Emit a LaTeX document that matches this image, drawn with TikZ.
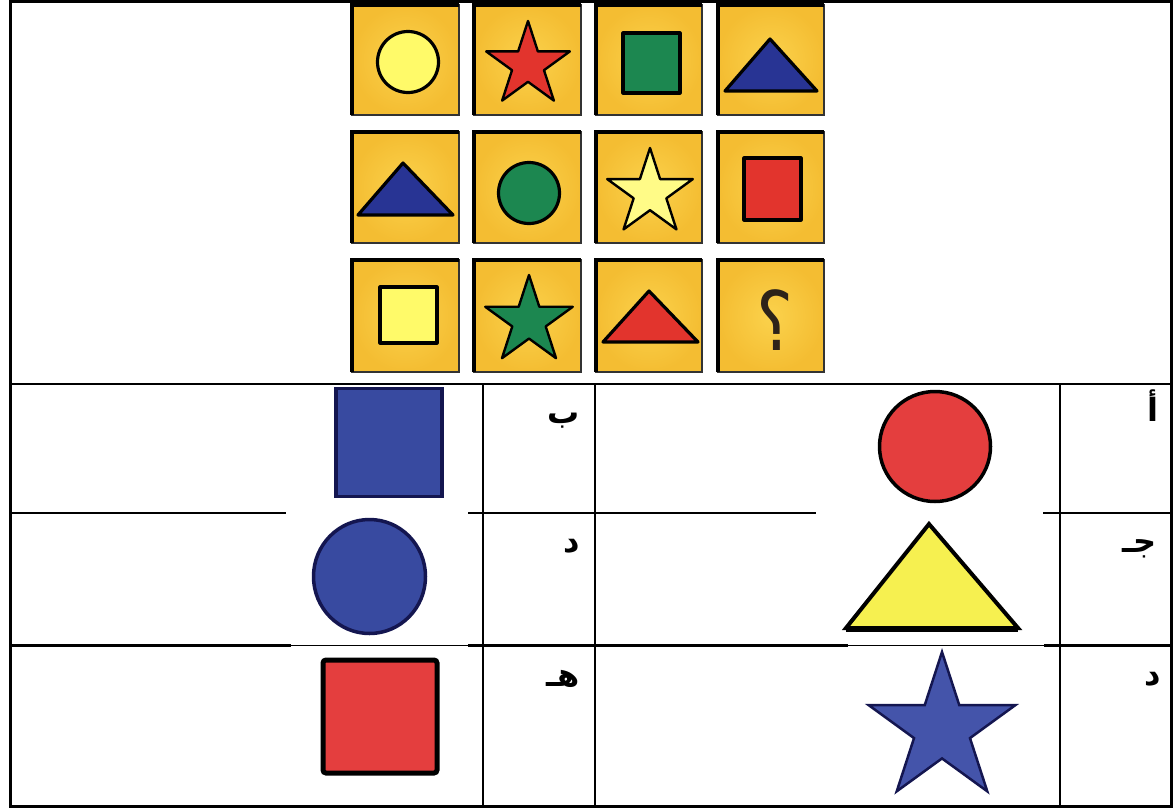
\documentclass[tikz,border=0pt]{standalone}
\usepackage{fontspec}
\newfontfamily\arabicfont[Script=Arabic]{DejaVu Sans}
\TeXXeTstate=1
\definecolor{tileIn}{RGB}{251,210,76}
\definecolor{tileOut}{RGB}{244,189,50}
\definecolor{pYellow}{RGB}{255,250,105}
\definecolor{pRed}{RGB}{226,52,45}
\definecolor{pGreen}{RGB}{28,135,80}
\definecolor{pBlue}{RGB}{40,52,148}
\definecolor{qCol}{RGB}{45,35,25}
\definecolor{aBlue}{RGB}{56,74,160}
\definecolor{aNavy}{RGB}{20,22,80}
\definecolor{aRed}{RGB}{228,62,62}
\definecolor{aYellow}{RGB}{246,240,80}
\definecolor{sBlue}{RGB}{68,84,170}
\newcommand{\drawstar}[4]{%
  \draw[#1] ({#2},{#3-#4})
    \foreach \i in {1,...,9}{ -- ({#2+(mod(\i,2)==0?1:0.382)*#4*cos(90+36*\i)},{#3-(mod(\i,2)==0?1:0.382)*#4*sin(90+36*\i)}) } -- cycle;}
\tikzset{
  grid/.style={line width=2.8pt, draw=black},
  thingrid/.style={line width=1pt, draw=black},
  shp/.style={line width=3.2pt, draw=black, line join=round},
  lab/.style={font=\arabicfont\bfseries\fontsize{32}{32}\selectfont, anchor=base east, inner sep=0pt},
}
\begin{document}
\begin{tikzpicture}[x=1pt,y=-1pt]
\useasboundingbox (0,0) rectangle (1175,809);
\fill[white] (0,0) rectangle (1175,809);
% table
\draw[grid] (10.5,1.4) rectangle (1171.5,806.5);
\draw[grid] (10.5,384) -- (1171.5,384);
\foreach \x in {483,595,1060} \draw[grid] (\x,384) -- (\x,806.5);
\draw[grid] (10.5,513) -- (286,513);
\draw[grid] (468,513) -- (816,513);
\draw[grid] (1043,513) -- (1171.5,513);
\draw[grid] (10.5,645.7) -- (291,645.7);
\draw[thingrid] (291,645.7) -- (468,645.7);
\draw[grid] (468,645.7) -- (848,645.7);
\draw[thingrid] (848,645.7) -- (1044,645.7);
\draw[grid] (1044,645.7) -- (1171.5,645.7);
% puzzle tiles
\foreach \xa/\xb in {352/459,474/581,596/702,718/824}{
  \foreach \ya/\yb in {5/115,132/243,260/372}{
    \shade[inner color=tileIn, outer color=tileOut] (\xa,\ya) rectangle (\xb,\yb);
    \draw[line width=1.2pt, black!80] (\xa,\ya) rectangle (\xb,\yb);
    \draw[line width=3.2pt, black] (\xa,\yb) -- (\xa,\ya) -- (\xb,\ya);
  }
}
% row 1
\draw[shp, fill=pYellow] (408,62) circle[radius=30.5];
\drawstar{shp, line width=2.4pt, fill=pRed}{528}{65}{44}
\draw[shp, fill=pGreen] (623,33) rectangle (680,93);
\draw[shp, fill=pBlue] (770,39) -- (817,91) -- (725,91) -- cycle;
% row 2
\draw[shp, fill=pBlue] (403,163) -- (453,215) -- (358,215) -- cycle;
\draw[shp, fill=pGreen] (529,193) circle[radius=30.5];
\drawstar{shp, line width=2.4pt, fill=pYellow!80!white}{650}{193}{45}
\draw[shp, fill=pRed] (744,158) rectangle (801,220);
% row 3
\draw[shp, fill=pYellow] (380,287) rectangle (437,343);
\drawstar{shp, line width=2.4pt, fill=pGreen}{529}{321}{46}
\draw[shp, fill=pRed] (649,291) -- (698,342) -- (603,342) -- cycle;
\node[font=\arabicfont\fontsize{82}{82}\selectfont, text=qCol, xscale=0.85, inner sep=0pt] (qm) at (775,320) {\beginR ؟\endR};
% answers
\draw[line width=3.5pt, draw=aNavy, fill=aBlue] (336,388.5) rectangle (442,496.5);
\draw[line width=3.5pt, draw=black, fill=aRed] (935,446.5) ellipse[x radius=55.5, y radius=55];
\draw[line width=3.5pt, draw=aNavy, fill=aBlue] (369.5,576.5) ellipse[x radius=56, y radius=57];
\draw[line width=4pt, draw=black, fill=aYellow, line join=miter] (929,524) -- (1018,628) -- (846,628) -- cycle;
\draw[line width=6pt, black] (846,628.5) -- (1018,628.5);
\draw[line width=5pt, draw=black, fill=aRed, rounded corners=3pt] (323,660) rectangle (437,773);
\drawstar{line width=2.5pt, draw=aNavy, fill=sBlue, line join=miter}{942}{729}{77}
% labels
\node[lab] (lb) at (580,423) {\beginR ب\endR};
\node[lab] (la) at (1159,421) {\beginR أ\endR};
\node[lab] (ld1) at (580,552) {\beginR د\endR};
\node[lab] (lj) at (1157,552) {\beginR جـ\endR};
\node[lab] (lh) at (580,686) {\beginR هـ\endR};
\node[lab] (ld2) at (1161,685) {\beginR د\endR};
\end{tikzpicture}
\end{document}
